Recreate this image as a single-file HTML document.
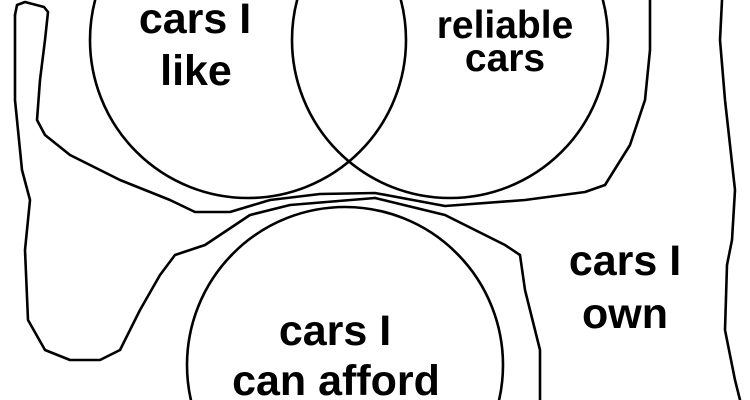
<!DOCTYPE html>
<html><head><style>
html,body{margin:0;padding:0;background:#fff;width:750px;height:400px;overflow:hidden}
svg{display:block;overflow:hidden}
text{font-family:"Liberation Sans",Arial,sans-serif;font-weight:bold;fill:#000;text-anchor:middle}
</style></head><body>
<svg width="750" height="400" viewBox="0 0 750 400" xmlns="http://www.w3.org/2000/svg">
<g fill="none" stroke="#000" stroke-width="2.6" stroke-linejoin="round" stroke-linecap="round">
<circle cx="248" cy="40" r="158"/>
<circle cx="450" cy="40" r="158"/>
<circle cx="345" cy="365" r="158"/>
<path d="M15,15 L17,5 L25,2 L44,7 L48,12 L45,40 L40,80 L37,120 L45,135 L70,155 L120,180 L170,200 L195,212 L230,212 L270,200 L320,194 L375,193 L445,206 L525,200 L585,192 L605,185 L630,145 L645,100 L650,50 L650,0"/>
<path d="M375,198 L445,215 L505,245 L520,255 L525,290 L540,350 L540,400"/>
<path d="M375,198 L290,205 L250,215 L205,245 L175,255 L160,275 L140,310 L120,350 L100,360 L70,360 L45,350 L28,320 L25,250 L30,200 L22,170 L15,100 L15,15"/>
<path d="M722,0 L720,40 L725,100 L735,190 L732,240 L727,265 L725,330 L735,380 L740,400"/>
</g>
<text x="195" y="33" font-size="43">cars I</text>
<text x="196" y="85" font-size="43">like</text>
<text x="505" y="38" font-size="39">reliable</text>
<text x="505" y="71" font-size="39">cars</text>
<text x="625" y="275" font-size="43">cars I</text>
<text x="625" y="328" font-size="43">own</text>
<text x="335" y="345" font-size="43">cars I</text>
<text x="336" y="395" font-size="43">can afford</text>
</svg>
</body></html>
